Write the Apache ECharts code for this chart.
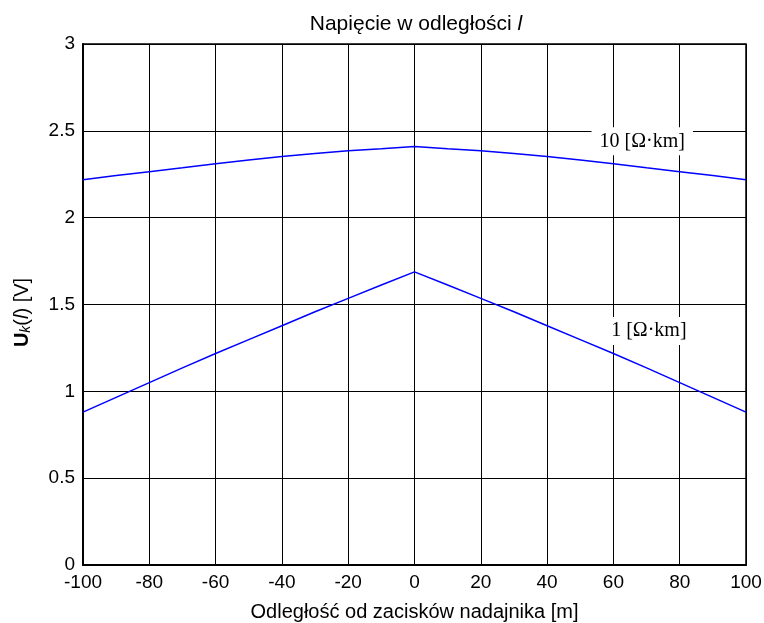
<!DOCTYPE html>
<html>
<head>
<meta charset="utf-8">
<script src="https://cdn.jsdelivr.net/npm/echarts@6/dist/echarts.min.js"></script>
<style>
html, body { margin: 0; padding: 0; background: #fff; }
#main { width: 764px; height: 623px; }
</style>
</head>
<body>
<div id="main"></div>
<script>
var myChart = echarts.init(document.getElementById('main'));

// odległość [m]
var distances = [-100, -90, -80, -70, -60, -50, -40, -30, -20, -10, 0, 10, 20, 30, 40, 50, 60, 70, 80, 90, 100];
// napięcie dla 10 Ohm*km
var u10 = [2.218, 2.243, 2.265, 2.287, 2.31, 2.332, 2.352, 2.37, 2.385, 2.397, 2.41, 2.397, 2.385, 2.37, 2.352, 2.332, 2.31, 2.287, 2.265, 2.243, 2.218];
// napięcie dla 1 Ohm*km
var u1 = [0.88, 0.965, 1.05, 1.135, 1.218, 1.298, 1.378, 1.458, 1.535, 1.612, 1.688, 1.612, 1.535, 1.458, 1.378, 1.298, 1.218, 1.135, 1.05, 0.965, 0.88];
var curveLabels = ['10 [Ω·km]', '1 [Ω·km]'];
var labelPos = [[68.7, 2.44], [70.7, 1.347]];

function pairs(ys) {
	var out = [];
	for (let i = 0; i < distances.length; i++) {
		out.push([distances[i], ys[i]]);
	}
	return out;
}

var font = 'Liberation Sans, Arial, sans-serif';
var serif = 'Liberation Serif, Times New Roman, serif';

function curve(ys, idx) {
	return {
		type: 'line',
		data: pairs(ys),
		symbol: 'none',
		lineStyle: { color: '#0000ff', width: 1.5 },
		z: 3,
		markPoint: {
			symbol: 'circle',
			symbolSize: 0,
			silent: true,
			data: [{ coord: labelPos[idx] }],
			label: {
				show: true,
				position: 'inside',
				formatter: curveLabels[idx],
				fontFamily: serif,
				fontSize: 20,
				color: '#000',
				backgroundColor: '#fff',
				padding: [4, 8]
			}
		}
	};
}

option = {
	animation: false,
	backgroundColor: '#fff',
	title: {
		text: 'Napięcie w odległości {i|l}',
		left: 411,
		textAlign: 'center',
		top: 9,
		textStyle: {
			fontFamily: font,
			fontSize: 21,
			fontWeight: 'normal',
			color: '#000',
			rich: {
				i: { fontFamily: font, fontSize: 21, fontStyle: 'italic', color: '#000' }
			}
		}
	},
	grid: {
		left: 83,
		right: 18,
		top: 44,
		bottom: 58,
		outerBoundsMode: 'none',
		show: true,
		borderColor: '#000',
		borderWidth: 1.5
	},
	xAxis: {
		type: 'value',
		min: -100,
		max: 100,
		interval: 20,
		name: 'Odległość od zacisków nadajnika [m]',
		nameLocation: 'middle',
		nameGap: 37,
		nameTextStyle: { fontFamily: font, fontSize: 20, color: '#000' },
		axisLine: { show: true, onZero: false, lineStyle: { color: '#000', width: 2 } },
		axisTick: { show: false },
		axisLabel: { fontFamily: font, fontSize: 19, color: '#000', margin: 8 },
		splitLine: { show: true, lineStyle: { color: '#000', width: 1 } }
	},
	yAxis: {
		type: 'value',
		min: 0,
		max: 3,
		interval: 0.5,
		name: '{b|U}{k|k}{n|(}{i|l}{n|) [V]}',
		nameLocation: 'middle',
		nameGap: 50,
		nameTextStyle: {
			fontFamily: font,
			fontSize: 20,
			color: '#000',
			padding: [0, 16, 0, 0],
			rich: {
				b: { fontFamily: font, fontSize: 20, fontWeight: 'bold', color: '#000' },
				k: { fontFamily: font, fontSize: 14, fontStyle: 'italic', color: '#000', verticalAlign: 'bottom', padding: [7, 0, 0, 0] },
				i: { fontFamily: font, fontSize: 20, fontStyle: 'italic', color: '#000' },
				n: { fontFamily: font, fontSize: 20, color: '#000' }
			}
		},
		axisLine: { show: true, onZero: false, lineStyle: { color: '#000', width: 2 } },
		axisTick: { show: false },
		axisLabel: { fontFamily: font, fontSize: 19, color: '#000', margin: 8 },
		splitLine: { show: true, lineStyle: { color: '#000', width: 1 } }
	},
	series: [curve(u10, 0), curve(u1, 1)]
};

myChart.setOption(option);
</script>
</body>
</html>
